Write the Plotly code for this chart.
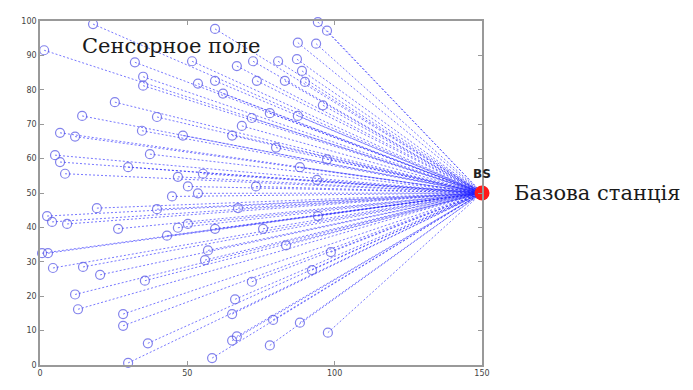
import plotly.graph_objects as go

# Sensor node coordinates in the 150 x 100 field
node_x = [18.0, 1.4, 59.4, 32.2, 35.0, 35.0, 25.4, 14.3, 39.7, 6.8,
          11.9, 34.6, 48.5, 37.3, 5.1, 6.8, 29.9, 8.5, 46.8, 50.2,
          94.3, 97.4, 87.5, 93.7, 72.3, 80.8, 87.2, 66.8, 88.9, 89.9,
          73.6, 83.1, 53.6, 59.4, 62.1, 96.0, 71.9, 87.5, 78.0, 68.5,
          65.2, 80.1, 97.4, 88.2, 55.3, 94.0, 73.3, 44.8, 19.3, 39.7,
          2.4, 4.1, 9.2, 26.5, 46.8, 50.2, 43.1, 0.7, 2.7, 4.4,
          14.6, 20.4, 35.6, 11.9, 12.9, 28.2, 28.2, 36.6, 29.9, 53.6,
          67.2, 59.4, 75.7, 94.3, 83.5, 57.0, 56.0, 98.7, 92.3, 71.9,
          66.2, 65.2, 79.1, 88.2, 97.7, 66.8, 65.2, 78.0, 58.4, 51.6]
node_y = [99.1, 91.5, 97.7, 88.0, 83.8, 81.2, 76.4, 72.4, 72.1, 67.5,
          66.4, 68.1, 66.7, 61.3, 61.0, 59.0, 57.5, 55.6, 54.7, 51.9,
          99.7, 97.2, 93.7, 93.4, 88.3, 88.3, 88.9, 86.9, 85.5, 82.3,
          82.6, 82.6, 81.8, 82.6, 78.9, 75.5, 71.8, 72.4, 73.2, 69.5,
          66.7, 63.2, 59.8, 57.5, 55.6, 53.8, 51.9, 49.0, 45.6, 45.3,
          43.3, 41.6, 41.0, 39.6, 39.9, 41.0, 37.6, 32.5, 32.5, 28.2,
          28.5, 26.2, 24.5, 20.5, 16.2, 14.8, 11.4, 6.3, 0.6, 49.9,
          45.6, 39.6, 39.6, 43.3, 34.8, 33.3, 30.5, 32.8, 27.6, 24.2,
          19.1, 14.8, 13.1, 12.3, 9.4, 8.3, 7.1, 5.7, 2.0, 88.3]

# Base station position
bs_x = [150]
bs_y = [50]

x_ticks = [0, 50, 100, 150]
y_ticks = [0, 10, 20, 30, 40, 50, 60, 70, 80, 90, 100]

# Links from every node to the base station, one trace broken by None
link_x, link_y = [], []
for nx, ny in zip(node_x, node_y):
    link_x += [nx, bs_x[0], None]
    link_y += [ny, bs_y[0], None]

fig = go.Figure()
fig.add_trace(go.Scatter(
    x=link_x, y=link_y, mode="lines",
    line=dict(color="rgba(30,30,255,0.6)", width=1, dash="2px,2px"),
    hoverinfo="skip", cliponaxis=False,
))
fig.add_trace(go.Scatter(
    x=node_x, y=node_y, mode="markers",
    marker=dict(symbol="circle-open", size=9,
                color="rgba(90,90,230,0.75)", line=dict(width=1.2)),
    cliponaxis=False,
))
fig.add_trace(go.Scatter(
    x=bs_x, y=bs_y, mode="markers",
    marker=dict(symbol="circle", size=15, color="#ff1a1a"),
    cliponaxis=False,
))

fig.add_annotation(x=44.5, y=92.6, xref="x", yref="y", text="Сенсорное поле",
                   showarrow=False, xanchor="center", yanchor="middle",
                   font=dict(family="DejaVu Serif", size=21, color="#1a1a1a"))
fig.add_annotation(x=150, y=53, xref="x", yref="y", text="<b>BS</b>",
                   showarrow=False, xanchor="center", yanchor="bottom",
                   font=dict(family="DejaVu Sans", size=12, color="#222"))
fig.add_annotation(x=1.068, y=0.5, xref="paper", yref="paper",
                   text="Базова станція",
                   showarrow=False, xanchor="left", yanchor="middle",
                   font=dict(family="DejaVu Serif", size=21, color="#1a1a1a"))

axis_common = dict(
    showgrid=False, zeroline=False, showline=True, mirror="ticks",
    linecolor="#999", linewidth=1.5, ticks="inside", ticklen=4,
    tickcolor="#999", tickfont=dict(family="DejaVu Sans", size=8, color="#444"),
)
fig.update_xaxes(range=[0, 150], tickvals=x_ticks, **axis_common)
fig.update_yaxes(range=[0, 100], tickvals=y_ticks, **axis_common)

fig.update_layout(
    width=693, height=390,
    margin=dict(l=40, r=211, t=21, b=18),
    paper_bgcolor="white", plot_bgcolor="white",
    showlegend=False,
)

fig.write_html("out.html")
